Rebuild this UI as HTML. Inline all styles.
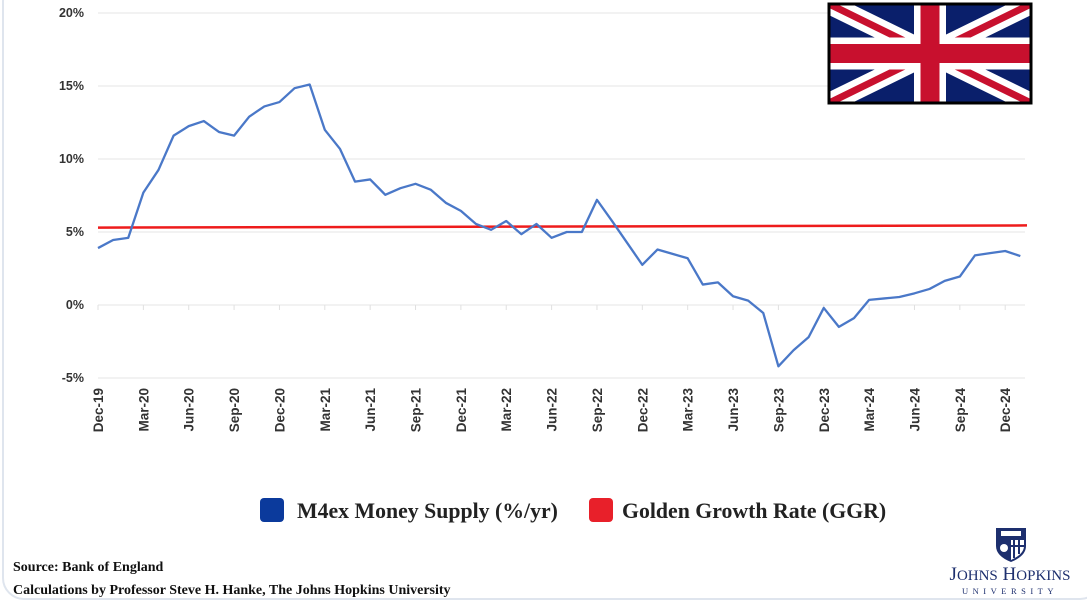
<!DOCTYPE html>
<html><head><meta charset="utf-8"><style>
html,body{margin:0;padding:0;background:#fff;}
body{width:1087px;height:603px;position:relative;overflow:hidden;font-family:"Liberation Sans",sans-serif;}
.card{position:absolute;left:2px;top:-20px;width:1100px;height:620px;border:2px solid #dfe5ee;border-radius:22px;box-sizing:border-box;}
.serif{font-family:"Liberation Serif",serif;font-weight:bold;}
</style></head><body>
<div class="card"></div>
<svg id="chart" width="1087" height="603" style="position:absolute;left:0;top:0">
<g id="grid"></g><g id="xlab"></g><g id="ylab"></g><g id="series"></g>
<g transform="translate(829,4)">
 <clipPath id="fc"><rect width="202" height="99"/></clipPath>
 <g clip-path="url(#fc)">
 <rect width="202" height="99" fill="#0a1f6b"/>
 <path d="M0,0L202,99M202,0L0,99" stroke="#fff" stroke-width="20"/>
 <path d="M0,0L202,99M202,0L0,99" stroke="#c8102e" stroke-width="7"/>
 <path d="M101,0V99M0,49.5H202" stroke="#fff" stroke-width="32"/>
 <path d="M101,0V99M0,49.5H202" stroke="#c8102e" stroke-width="19"/>
 </g>
 <rect width="202" height="99" fill="none" stroke="#000" stroke-width="3"/>
</g>
<g>
 <rect x="260" y="498" width="24" height="24" rx="4" fill="#0b3a9c"/>
 <text x="297" y="518" class="serif" font-size="21.8" fill="#222">M4ex Money Supply (%/yr)</text>
 <rect x="589" y="498" width="24" height="24" rx="4" fill="#e8202a"/>
 <text x="622" y="518" class="serif" font-size="21.8" fill="#222">Golden Growth Rate (GGR)</text>
</g>
<text x="13" y="571" class="serif" font-size="14" fill="#111">Source: Bank of England</text>
<text x="13" y="594" class="serif" font-size="14" fill="#111">Calculations by Professor Steve H. Hanke, The Johns Hopkins University</text>
<g>
 <path d="M996,528h30v18q0,10 -15,16q-15,-6 -15,-16z" fill="#1d2f6e"/>
 <path d="M1011,540h13v6q0,8 -13,14z" fill="#fff"/>
 <path d="M1014,540v18M1019,540v14M1011,546h13" stroke="#1d2f6e" stroke-width="2"/>
 <rect x="1001" y="531" width="20" height="5" fill="#fff"/>
 <circle cx="1004" cy="548" r="4" fill="#fff"/>
 <text x="1010" y="580" text-anchor="middle" font-family="Liberation Serif,serif" font-size="19" fill="#1d2f6e">J<tspan font-size="15">OHNS</tspan> H<tspan font-size="15">OPKINS</tspan></text>
 <text x="1010" y="594" text-anchor="middle" font-family="Liberation Serif,serif" font-size="8.5" letter-spacing="4.5" fill="#1d2f6e">UNIVERSITY</text>
</g>
</svg>
<script>
const yTicks=[20,15,10,5,0,-5];
const yTickLabels=["20%","15%","10%","5%","0%","-5%"];
const xTickLabels=["Dec-19","Mar-20","Jun-20","Sep-20","Dec-20","Mar-21","Jun-21","Sep-21","Dec-21","Mar-22","Jun-22","Sep-22","Dec-22","Mar-23","Jun-23","Sep-23","Dec-23","Mar-24","Jun-24","Sep-24","Dec-24"];
const m4ex=[3.9,4.45,4.6,7.7,9.25,11.6,12.25,12.6,11.85,11.6,12.9,13.6,13.9,14.85,15.1,12.0,10.7,8.45,8.6,7.55,8.0,8.3,7.9,7.0,6.45,5.55,5.15,5.75,4.85,5.55,4.6,5.0,5.0,7.2,5.75,4.25,2.75,3.8,3.5,3.2,1.4,1.55,0.6,0.3,-0.55,-4.2,-3.1,-2.2,-0.2,-1.5,-0.9,0.35,0.45,0.55,0.8,1.1,1.65,1.95,3.4,3.55,3.7,3.35];
const ggrStart=5.3, ggrEnd=5.45;
const NS="http://www.w3.org/2000/svg";
const X0=98, DX=15.12, Y0=305, DY=14.6;
const xs=i=>X0+i*DX, ys=v=>Y0-v*DY;
function mk(tag,attrs,parent){const e=document.createElementNS(NS,tag);for(const k in attrs)e.setAttribute(k,attrs[k]);document.getElementById(parent).appendChild(e);return e;}
yTicks.forEach((t,i)=>{
 const g=mk('line',{x1:98,x2:1025,y1:ys(t),y2:ys(t),stroke:'#e6e6e6','stroke-width':1},'grid');
 
 
 const l=mk('text',{x:84,y:ys(t)+4,'text-anchor':'end','font-size':12.5,'font-weight':'bold',fill:'#333'},'ylab');
 l.textContent=yTickLabels[i];
 
 
});
xTickLabels.forEach((s,i)=>{
 const x=xs(i*3);
 const t=mk('line',{x1:x,x2:x,y1:ys(0),y2:ys(0)+5,stroke:'#e0e0e0'},'grid');
 
 
 const l=mk('text',{x:0,y:0,transform:`translate(${x+5},388) rotate(-90)`,'text-anchor':'end','font-size':13.5,'font-weight':'bold',fill:'#333'},'xlab');
 l.textContent=s;
 
 
});
const ggr=mk('line',{x1:98,x2:1027,y1:ys(ggrStart),y2:ys(ggrEnd),stroke:'#ee1c1c','stroke-width':2.5},'series');


const p=mk('polyline',{points:m4ex.map((v,i)=>xs(i)+','+ys(v)).join(' '),fill:'none',stroke:'#4a78c8','stroke-width':2.3,'stroke-linejoin':'round'},'series');


</script>
</body></html>
